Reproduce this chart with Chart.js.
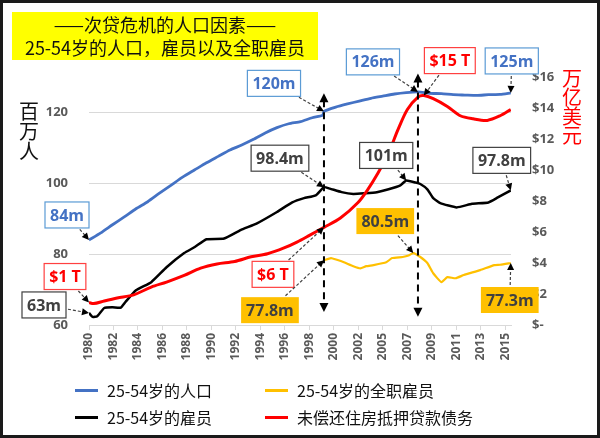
<!DOCTYPE html>
<html>
<head>
<meta charset="utf-8">
<script src="https://cdn.jsdelivr.net/npm/chart.js@4.4.1/dist/chart.umd.min.js"></script>
<style>
  html, body { margin: 0; padding: 0; background: #fff; }
  #wrap { position: relative; width: 600px; height: 438px; overflow: hidden; font-family: "Noto Sans CJK SC", "Noto Sans", sans-serif; }
  #frame { position: absolute; left: 0; top: 0; width: 600px; height: 438px; box-sizing: border-box; border: 3px solid #1a1a1a; pointer-events: none; }
  canvas { position: absolute; left: 0; top: 0; }
  #title { position: absolute; left: 12px; top: 12px; width: 306px; height: 48px; background: #ffff00; text-align: center; font-size: 18px; line-height: 23px; color: #111; padding-top: 1px; box-sizing: border-box; }
  #ytitle-left { position: absolute; left: 18px; top: 101px; font-size: 20px; line-height: 20px; color: #111; width: 22px; text-align: center; }
  #ytitle-right { position: absolute; left: 561px; top: 68px; font-size: 20px; line-height: 19px; color: #ff0000; width: 22px; text-align: center; }
  #legend { position: absolute; left: 0; top: 0; }
  .item { position: absolute; font-size: 16px; line-height: 20px; color: #111; white-space: nowrap; }
  .item span.swatch { position: absolute; top: 9px; width: 23px; height: 3px; }
</style>
</head>
<body>
<div id="wrap">
  <canvas id="myChart" width="600" height="438"></canvas>
  <div id="title">——次贷危机的人口因素——<br>25-54岁的人口，雇员以及全职雇员</div>
  <div id="ytitle-left">百<br>万<br>人</div>
  <div id="ytitle-right">万<br>亿<br>美<br>元</div>
  <div id="legend"></div>
  <div id="frame"></div>
</div>
<script>
// 25-54 population (millions, left axis)
var popYears = [1980, 1981, 1982, 1983, 1984, 1985, 1986, 1987, 1988, 1989, 1990, 1991, 1992, 1993, 1994, 1995, 1996, 1997, 1998, 1999, 1999.9,
    2000, 2001, 2002, 2003, 2004, 2005, 2006, 2007, 2008, 2009, 2010, 2011, 2012, 2013, 2014, 2015, 2015.9];
var popValues = [84.0, 86.0, 88.3, 90.5, 92.8, 94.8, 97.2, 99.5, 101.8, 103.8, 105.8, 107.6, 109.4, 110.8, 112.4, 114.2, 115.7, 116.8, 117.4, 118.5, 119.2,
    120.3, 121.5, 122.4, 123.2, 124.0, 124.6, 125.2, 125.6, 125.8, 125.4, 125.3, 125.0, 124.9, 124.8, 125.0, 125.1, 125.5];

// 25-54 employed (millions, left axis)
var empYears = [1980, 1980.3, 1980.7, 1981.3, 1982, 1982.7, 1983.1, 1984, 1985.3, 1986.6, 1988.1, 1989, 1990, 1991.5, 1992.9, 1994.3, 1996, 1997.3, 1998.3, 1999.3,
    2000, 2000.5, 2001.5, 2002.5, 2003.5, 2004.5, 2005.5, 2006.5, 2007, 2007.8, 2008.2, 2008.8, 2009.3, 2009.9, 2011.3, 2012.6, 2014, 2014.8, 2015.9];
var empValues = [63.4, 62.3, 62.5, 64.8, 65.0, 64.9, 66.5, 69.8, 72.1, 76.3, 80.3, 82.0, 84.2, 84.4, 86.8, 88.7, 91.9, 94.6, 95.8, 96.6,
    98.9, 98.5, 97.5, 97.0, 97.2, 97.5, 98.3, 99.4, 100.8, 100.2, 99.8, 98.3, 95.8, 94.4, 93.2, 94.2, 94.6, 96.0, 98.0];

// 25-54 full-time employed (millions, left axis)
var fullYears = [2000, 2000.6, 2001.1, 2001.7, 2002.5, 2003.1, 2003.6, 2004.2, 2005.3, 2005.8, 2006.7, 2007.2, 2007.6, 2008.2, 2008.8, 2009.3, 2010,
    2010.5, 2011.2, 2011.9, 2013.3, 2014.5, 2015, 2015.9];
var fullValues = [78.3, 78.9, 78.4, 77.7, 76.6, 76.0, 76.6, 76.9, 77.7, 78.9, 79.2, 79.6, 80.3, 79.2, 77.5, 74.6, 72.1,
    73.5, 73.2, 74.1, 75.5, 76.9, 77.0, 77.5];

// outstanding mortgage debt ($ trillion, right axis)
var debtYears = [1980, 1980.4, 1981.3, 1982.4, 1983.8, 1985.3, 1986.6, 1988.1, 1989.5, 1990.9, 1992.4, 1993.8, 1995.2, 1996.6, 1997.7, 1998.8,
    2000, 2001.4, 2002.9, 2003.7, 2004.6, 2005.5, 2006.3, 2007.1, 2008, 2008.5, 2009.3, 2010.5, 2011.6, 2012.7, 2013.9, 2015, 2015.9];
var debtValues = [1.45, 1.38, 1.55, 1.74, 1.94, 2.45, 2.77, 3.2, 3.67, 3.94, 4.1, 4.4, 4.6, 4.97, 5.35, 5.8,
    6.3, 6.9, 7.9, 8.7, 9.8, 11.1, 12.6, 13.9, 14.7, 14.8, 14.6, 14.1, 13.5, 13.3, 13.2, 13.5, 13.9];

var seriesNames = ['25-54岁的人口', '25-54岁的雇员', '25-54岁的全职雇员', '未偿还住房抵押贷款债务'];
var seriesColors = ['#4472c4', '#000000', '#ffc000', '#ff0000'];

var xTickLabels = ['1980', '1982', '1984', '1986', '1988', '1990', '1992', '1994', '1996', '1998',
    '2000', '2002', '2005', '2007', '2009', '2011', '2013', '2015'];
var leftTicks = [60, 80, 100, 120];
var rightTicks = [0, 2, 4, 6, 8, 10, 12, 14, 16];

var series = {
    pop: { years: popYears, values: popValues, axis: 'y' },
    emp: { years: empYears, values: empValues, axis: 'y' },
    full: { years: fullYears, values: fullValues, axis: 'y' },
    debt: { years: debtYears, values: debtValues, axis: 'y1' }
};

// callouts: which point they point at, and where the box sits relative to it
var callouts = [
    { text: '84m', s: 'pop', year: 1980, dx: -22, dy: -25, kind: 'blue' },
    { text: '$1 T', s: 'debt', year: 1980, dx: -24, dy: -26, kind: 'red' },
    { text: '63m', s: 'emp', year: 1980, dx: -45, dy: -8, kind: 'black' },
    { text: '120m', s: 'pop', year: 2000, dx: -50, dy: -28, kind: 'blue' },
    { text: '98.4m', s: 'emp', year: 2000, dx: -44, dy: -29, kind: 'black' },
    { text: '$6 T', s: 'debt', year: 2000, dx: -51, dy: 47, kind: 'red' },
    { text: '77.8m', s: 'full', year: 2000, dx: -54, dy: 50, kind: 'gold' },
    { text: '126m', s: 'pop', year: 2008, dx: -45, dy: -30, kind: 'blue' },
    { text: '$15 T', s: 'debt', year: 2008.5, dx: 26, dy: -35, kind: 'red' },
    { text: '125m', s: 'pop', year: 'last', dx: 1, dy: -32, kind: 'blue' },
    { text: '101m', s: 'emp', year: 2007, dx: -20, dy: -25, kind: 'black' },
    { text: '97.8m', s: 'emp', year: 'last', dx: -9, dy: -30, kind: 'black' },
    { text: '80.5m', s: 'full', year: 2007.6, dx: -28, dy: -32, kind: 'gold' },
    { text: '77.3m', s: 'full', year: 'last', dx: -1, dy: 37, kind: 'gold' }
];

var markers = [
    { year: 2000, from: 63.7, to: 125.4 },
    { year: 2008, from: 62.3, to: 131 }
];

var boxStyles = {
    blue: { fill: '#ffffff', border: '#5b9bd5', text: '#4472c4' },
    red: { fill: '#ffffff', border: '#ff4040', text: '#ff0000' },
    black: { fill: '#ffffff', border: '#404040', text: '#404040' },
    gold: { fill: '#ffc000', border: null, text: '#404040' }
};

function toPoints(years, values) {
    var pts = [];
    for (var i = 0; i < years.length; i++) {
        pts.push({ x: years[i], y: values[i] });
    }
    return pts;
}

function pointPixel(chart, key, year) {
    var s = series[key];
    var i = year === 'last' ? s.years.length - 1 : s.years.indexOf(year);
    return {
        x: chart.scales.x.getPixelForValue(s.years[i]),
        y: chart.scales[s.axis].getPixelForValue(s.values[i])
    };
}

function arrowHead(ctx, x, y, ang, size) {
    ctx.beginPath();
    ctx.moveTo(x, y);
    ctx.lineTo(x - size * Math.cos(ang) + size * 0.5 * Math.sin(ang), y - size * Math.sin(ang) - size * 0.5 * Math.cos(ang));
    ctx.lineTo(x - size * Math.cos(ang) - size * 0.5 * Math.sin(ang), y - size * Math.sin(ang) + size * 0.5 * Math.cos(ang));
    ctx.closePath();
    ctx.fill();
}

var calloutPlugin = {
    id: 'callouts',
    afterDraw: function (chart) {
        var ctx = chart.ctx;
        var xs = chart.scales.x, ys = chart.scales.y;

        // vertical dashed markers with arrows at both ends
        markers.forEach(function (m) {
            var x = xs.getPixelForValue(m.year);
            var top = ys.getPixelForValue(m.to), bottom = ys.getPixelForValue(m.from);
            ctx.save();
            ctx.strokeStyle = '#000';
            ctx.fillStyle = '#000';
            ctx.lineWidth = 2;
            ctx.setLineDash([7, 5]);
            ctx.beginPath();
            ctx.moveTo(x, top + 7);
            ctx.lineTo(x, bottom - 7);
            ctx.stroke();
            ctx.setLineDash([]);
            arrowHead(ctx, x, top, -Math.PI / 2, 9);
            arrowHead(ctx, x, bottom, Math.PI / 2, 9);
            ctx.restore();
        });

        ctx.save();
        ctx.font = 'bold 16px "Open Sans", "Liberation Sans", sans-serif';
        ctx.textAlign = 'center';
        ctx.textBaseline = 'middle';
        callouts.forEach(function (c) {
            var st = boxStyles[c.kind];
            var p = pointPixel(chart, c.s, c.year);
            var cx = p.x + c.dx, cy = p.y + c.dy;
            var w = ctx.measureText(c.text).width + 10, h = 26;

            // dashed leader from the box edge to the point
            var ddx = p.x - cx, ddy = p.y - cy;
            var t = Math.min(Math.abs(ddx) > 0.01 ? (w / 2) / Math.abs(ddx) : 99, Math.abs(ddy) > 0.01 ? (h / 2) / Math.abs(ddy) : 99);
            var sx = cx + ddx * t, sy = cy + ddy * t;
            var ang = Math.atan2(p.y - sy, p.x - sx);
            ctx.strokeStyle = '#404040';
            ctx.fillStyle = '#000';
            ctx.lineWidth = 1.2;
            ctx.setLineDash([3, 2]);
            ctx.beginPath();
            ctx.moveTo(sx + Math.cos(ang) * 2, sy + Math.sin(ang) * 2);
            ctx.lineTo(p.x - Math.cos(ang) * 5, p.y - Math.sin(ang) * 5);
            ctx.stroke();
            ctx.setLineDash([]);
            arrowHead(ctx, p.x, p.y, ang, 7);

            ctx.fillStyle = st.fill;
            ctx.fillRect(cx - w / 2, cy - h / 2, w, h);
            if (st.border) {
                ctx.strokeStyle = st.border;
                ctx.lineWidth = 1.2;
                ctx.strokeRect(cx - w / 2, cy - h / 2, w, h);
            }
            ctx.fillStyle = st.text;
            ctx.fillText(c.text, cx, cy + 1);
        });
        ctx.restore();
    }
};

function buildLegend() {
    var legend = document.getElementById('legend');
    // blue, yellow on row 1; black, red on row 2
    var order = [0, 2, 1, 3];
    var cols = [75, 265];
    var rows = [380, 407];
    order.forEach(function (si, k) {
        var item = document.createElement('div');
        item.className = 'item';
        item.style.left = cols[k % 2] + 'px';
        item.style.top = rows[Math.floor(k / 2)] + 'px';
        item.style.paddingLeft = '32px';
        var sw = document.createElement('span');
        sw.className = 'swatch';
        sw.style.left = '0px';
        sw.style.background = seriesColors[si];
        item.appendChild(sw);
        item.appendChild(document.createTextNode(seriesNames[si]));
        legend.appendChild(item);
    });
}

function drawChart() {
    var ctx = document.getElementById('myChart').getContext('2d');
    var tickFont = { family: '"Open Sans", "Liberation Sans", sans-serif', size: 13, weight: 'bold' };

    new Chart(ctx, {
        type: 'line',
        data: {
            datasets: [{
                label: seriesNames[3],
                data: toPoints(debtYears, debtValues),
                yAxisID: 'y1',
                borderColor: seriesColors[3],
                borderWidth: 3,
                tension: 0.3
            }, {
                label: seriesNames[1],
                data: toPoints(empYears, empValues),
                yAxisID: 'y',
                borderColor: seriesColors[1],
                borderWidth: 2.5,
                tension: 0.15
            }, {
                label: seriesNames[2],
                data: toPoints(fullYears, fullValues),
                yAxisID: 'y',
                borderColor: seriesColors[2],
                borderWidth: 2.2,
                tension: 0.15
            }, {
                label: seriesNames[0],
                data: toPoints(popYears, popValues),
                yAxisID: 'y',
                borderColor: seriesColors[0],
                borderWidth: 2.8,
                tension: 0.2
            }]
        },
        options: {
            responsive: false,
            animation: false,
            parsing: false,
            elements: { point: { radius: 0 } },
            layout: { padding: { top: 77, left: 0, right: 0, bottom: 68 } },
            plugins: { legend: { display: false }, tooltip: { enabled: false } },
            scales: {
                x: {
                    type: 'linear',
                    min: 1980,
                    max: 2015.92,
                    afterFit: function (s) { s.height = 45; },
                    afterBuildTicks: function (s) {
                        s.ticks = xTickLabels.map(function (lab, k) { return { value: 1980 + k * 25 / 12 }; });
                    },
                    grid: { drawOnChartArea: false, drawTicks: true, tickLength: 5, color: '#d9d9d9' },
                    border: { color: '#d9d9d9' },
                    ticks: {
                        autoSkip: false,
                        minRotation: 90,
                        maxRotation: 90,
                        padding: 3,
                        color: '#595959',
                        font: { family: tickFont.family, size: 12, weight: 'bold' },
                        callback: function (v, i) { return xTickLabels[i]; }
                    }
                },
                y: {
                    position: 'left',
                    min: 60,
                    max: 130,
                    afterFit: function (s) { s.width = 89; },
                    afterBuildTicks: function (s) {
                        s.ticks = leftTicks.map(function (v) { return { value: v }; });
                    },
                    grid: { drawTicks: false, color: '#d9d9d9' },
                    border: { display: false },
                    ticks: { padding: 21, color: '#595959', font: tickFont }
                },
                y1: {
                    position: 'right',
                    min: 0,
                    max: 16,
                    afterFit: function (s) { s.width = 89; },
                    afterBuildTicks: function (s) {
                        s.ticks = rightTicks.map(function (v) { return { value: v }; });
                    },
                    grid: { display: false, drawTicks: false },
                    border: { display: false },
                    ticks: {
                        padding: 21,
                        color: '#595959',
                        font: tickFont,
                        callback: function (v) { return v === 0 ? '$-' : '$' + v; }
                    }
                }
            }
        },
        plugins: [calloutPlugin]
    });
}

buildLegend();
drawChart();
</script>
</body>
</html>
